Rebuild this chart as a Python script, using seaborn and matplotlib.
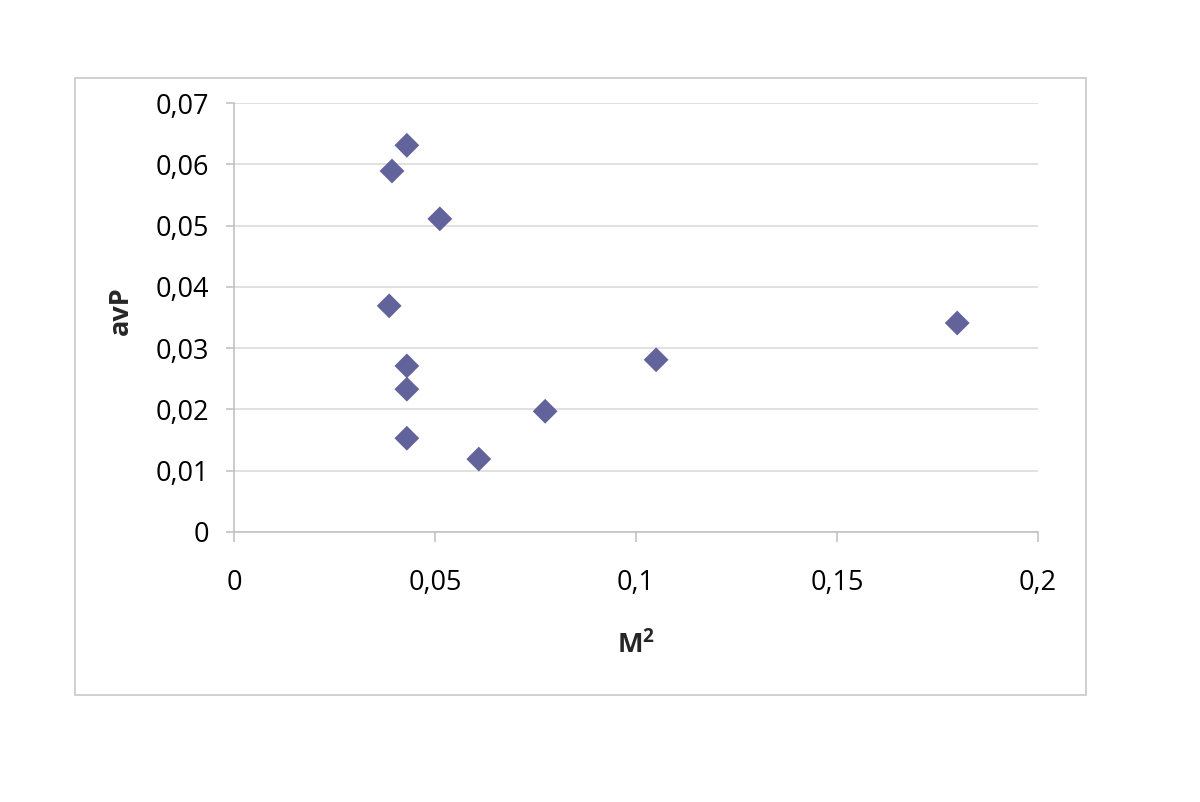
import matplotlib
matplotlib.use("Agg")
import matplotlib.pyplot as plt
import matplotlib.ticker as mticker
from matplotlib.patches import Rectangle
import seaborn as sns
import pandas as pd

# values
m2 = [0.0430, 0.0393, 0.0512, 0.0386, 0.1799, 0.1050, 0.0430, 0.0430, 0.0774, 0.0430, 0.0609]
avp = [0.0631, 0.0589, 0.0511, 0.0369, 0.0341, 0.0281, 0.0271, 0.0233, 0.0197, 0.0153, 0.0119]
x_ticks = [0, 0.05, 0.1, 0.15, 0.2]
y_ticks = [0, 0.01, 0.02, 0.03, 0.04, 0.05, 0.06, 0.07]

df = pd.DataFrame({"M2": m2, "avP": avp})

sns.set_style("white")
plt.rcParams["font.family"] = ["Open Sans", "DejaVu Sans"]
plt.rcParams["mathtext.fontset"] = "custom"
plt.rcParams["mathtext.bf"] = "Open Sans:bold"
plt.rcParams["mathtext.rm"] = "Open Sans"

fig = plt.figure(figsize=(12, 8.02), dpi=100)
ax = fig.add_axes([234 / 1200, 1 - 532 / 802, (1038 - 234) / 1200, (532 - 103) / 802])

# outer chart frame
fig.patches.append(Rectangle((75 / 1200, 1 - 695 / 802), (1086 - 75) / 1200, (695 - 78) / 802,
                             transform=fig.transFigure, fill=False, edgecolor="#c8c8c8", linewidth=1.2))

sns.scatterplot(data=df, x="M2", y="avP", marker="D", s=160, color="#63639c",
                edgecolor="none", ax=ax, zorder=3)

ax.set_xlim(0, 0.2)
ax.set_ylim(0, 0.07)
ax.set_xticks(x_ticks)
ax.set_yticks(y_ticks)
fmt = mticker.FuncFormatter(lambda v, p: ("%g" % round(v, 3)).replace(".", ","))
ax.xaxis.set_major_formatter(fmt)
ax.yaxis.set_major_formatter(fmt)

ax.yaxis.grid(True, color="#d9d9d9", linewidth=1.1)
ax.xaxis.grid(False)
for s in ["top", "right"]:
    ax.spines[s].set_visible(False)
for s in ["left", "bottom"]:
    ax.spines[s].set_color("#bfbfbf")
    ax.spines[s].set_linewidth(1.1)

ax.tick_params(axis="x", direction="out", length=7, width=1.1, color="#bfbfbf", pad=20,
               labelsize=19.5, labelcolor="black")
ax.tick_params(axis="y", direction="out", length=6, width=1.1, color="#bfbfbf", pad=12,
               labelsize=19.5, labelcolor="black")
ax.tick_params(bottom=True, left=True)

ax.set_xlabel("$\\mathbf{M^2}$", fontsize=19.5, labelpad=24)
ax.set_ylabel("avP", fontsize=19.5, fontweight="bold")
ax.yaxis.set_label_coords(-0.124, 0.515)

fig.savefig("out.png", dpi=100)
